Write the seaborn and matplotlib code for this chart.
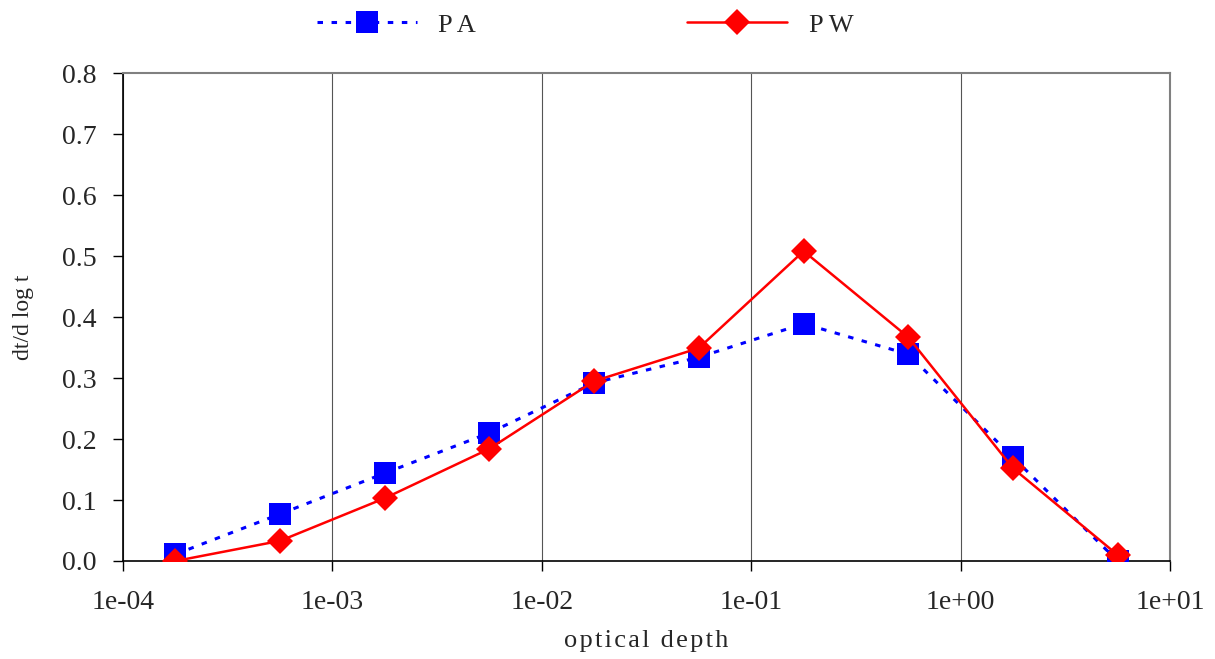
import numpy as np
import pandas as pd
import matplotlib
matplotlib.use("Agg")
import matplotlib.pyplot as plt
import seaborn as sns
from matplotlib.ticker import FixedLocator, NullLocator

depth = [1.78e-4, 5.62e-4, 1.78e-3, 5.62e-3, 1.78e-2, 5.62e-2, 1.78e-1, 5.62e-1, 1.78, 5.62]
pa = [0.011, 0.077, 0.144, 0.210, 0.292, 0.334, 0.389, 0.339, 0.170, 0.000]
pw = [0.000, 0.033, 0.103, 0.184, 0.295, 0.349, 0.508, 0.367, 0.152, 0.010]
x_ticks = [1e-4, 1e-3, 1e-2, 1e-1, 1e0, 1e1]
x_labels = ["1e-04", "1e-03", "1e-02", "1e-01", "1e+00", "1e+01"]
y_ticks = [0.0, 0.1, 0.2, 0.3, 0.4, 0.5, 0.6, 0.7, 0.8]

sns.set_theme(style="white")
plt.rcParams['font.family'] = ['Liberation Serif', 'DejaVu Serif']

df = pd.DataFrame({"depth": depth * 2, "value": pa + pw,
                   "series": ["PA"] * len(pa) + ["PW"] * len(pw)})

fig = plt.figure(figsize=(12.15, 6.59), dpi=100)
ax = fig.add_axes([123 / 1215, 1 - 561 / 659, (1170 - 123) / 1215, (561 - 73) / 659])

sns.lineplot(data=df[df.series == "PA"], x="depth", y="value", ax=ax, color="#0000FF",
             linewidth=2.2, marker="s", markersize=16, markeredgewidth=0,
             dashes=False, label="PA", zorder=3)
ax.lines[-1].set_dashes([1.8, 2.8])
sns.lineplot(data=df[df.series == "PW"], x="depth", y="value", ax=ax, color="#FF0000",
             linewidth=1.8, marker="D", markersize=13, markeredgewidth=0,
             label="PW", zorder=4)

ax.set_xscale("log")
ax.set_xlim(1e-4, 1e1)
ax.set_ylim(0, 0.8)
ax.xaxis.set_major_locator(FixedLocator(x_ticks))
ax.xaxis.set_minor_locator(NullLocator())
ax.set_xticklabels(x_labels)
ax.set_yticks(y_ticks)
ax.set_yticklabels([f"{v:.1f}" for v in y_ticks])
ax.tick_params(axis="both", labelsize=20, direction="out", length=7, width=1, color="black",
               left=True, bottom=True)
ax.tick_params(axis="y", pad=12)
ax.tick_params(axis="x", pad=14)
ax.grid(axis="x", color="#555555", linewidth=0.8)
ax.grid(axis="y", visible=False)

for s in ["left", "bottom"]:
    ax.spines[s].set_color("black")
    ax.spines[s].set_linewidth(1.2)
for s in ["top", "right"]:
    ax.spines[s].set_color("#808080")
    ax.spines[s].set_linewidth(1.5)

ax.set_xlabel("\u200a".join("optical depth"), fontsize=19, labelpad=11)
ax.set_ylabel("dt/d log t", fontsize=17, labelpad=20)

leg = ax.legend(loc="center", bbox_to_anchor=(585 / 1215, 1 - 25 / 659),
                bbox_transform=fig.transFigure, ncol=2, frameon=False,
                fontsize=19, handlelength=3.8, columnspacing=8.0, handletextpad=0.8,
                borderaxespad=0.0, markerscale=1.0)
for t in leg.get_texts():
    t.set_text(" ".join(t.get_text()))

fig.savefig("out.png", dpi=100)
